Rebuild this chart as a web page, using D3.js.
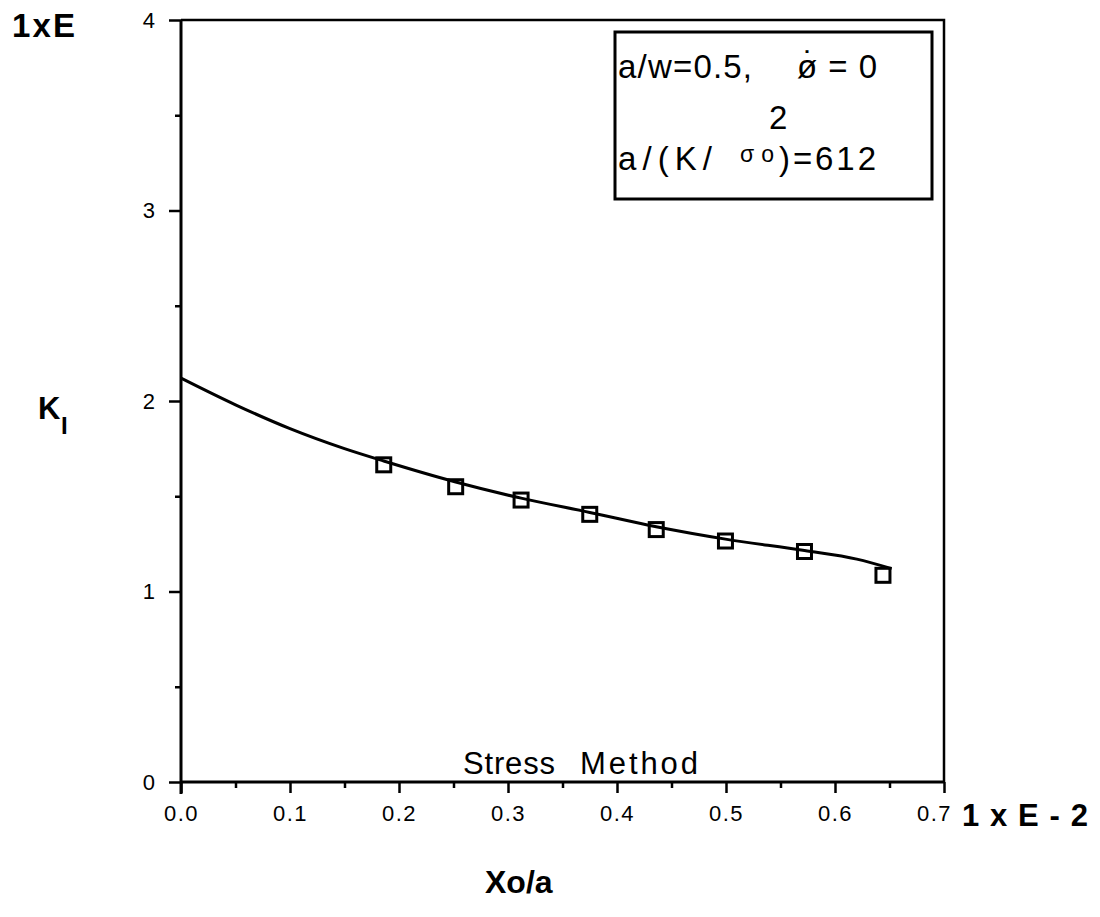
<!DOCTYPE html>
<html lang="en">
<head>
<meta charset="UTF-8">
<title>KI vs Xo/a</title>
<style>
    body { margin: 0; background: #fff; }
    text { font-family: "Liberation Sans", Arial, sans-serif; fill: #000; }
</style>
</head>
<body>
<svg id="chart"></svg>
<script src="https://d3js.org/d3.v7.min.js"></script>
<script>
    // data
    var xTicks = [0.0, 0.1, 0.2, 0.3, 0.4, 0.5, 0.6, 0.7];
    var yTicks = [0, 1, 2, 3, 4];
    var pointX = [0.186, 0.252, 0.312, 0.375, 0.436, 0.4995, 0.572, 0.644];
    var pointY = [1.665, 1.55, 1.48, 1.405, 1.325, 1.265, 1.21, 1.085];
    var curveX = [0.0, 0.05, 0.1, 0.15, 0.186, 0.252, 0.312, 0.375, 0.436, 0.4995, 0.572, 0.62, 0.652];
    var curveY = [2.12, 1.98, 1.855, 1.75, 1.685, 1.575, 1.49, 1.415, 1.34, 1.275, 1.215, 1.17, 1.12];

    var width = 1100, height = 917;
    var svg = d3.select("#chart").attr("width", width).attr("height", height);

    var x = d3.scaleLinear().domain([0, 0.7]).range([181, 944]);
    var y = d3.scaleLinear().domain([0, 4]).range([782, 20]);

    // frame (top and right)
    svg.append("path")
        .attr("d", "M" + x(0) + "," + y(4) + "H" + x(0.7) + "V" + y(0))
        .attr("fill", "none").attr("stroke", "#000").attr("stroke-width", 2.5);

    // x axis
    var xAxis = d3.axisBottom(x).tickValues(xTicks).tickSize(11).tickFormat(d3.format(".1f")).tickPadding(12);
    var gx = svg.append("g").attr("transform", "translate(0," + y(0) + ")").call(xAxis);
    gx.select(".domain").attr("stroke-width", 3).attr("d", "M" + x(0) + ",0H" + x(0.7));
    gx.selectAll(".tick line").attr("stroke-width", 2.5);
    gx.selectAll(".tick text").attr("font-size", 22).attr("letter-spacing", 1.5)
        .attr("font-family", "Liberation Sans, Arial, sans-serif")
        .attr("dx", d => d === 0.7 ? -10 : 0);
    svg.append("g").attr("transform", "translate(0," + y(0) + ")")
        .call(d3.axisBottom(x).tickValues(d3.range(0.05, 0.7, 0.1)).tickSize(6).tickFormat(""))
        .call(g => g.select(".domain").remove())
        .selectAll("line").attr("stroke-width", 2.5);

    // y axis
    var yAxis = d3.axisLeft(y).tickValues(yTicks).tickSize(12).tickFormat(d3.format("d")).tickPadding(14);
    var gy = svg.append("g").attr("transform", "translate(" + x(0) + ",0)").call(yAxis);
    gy.select(".domain").attr("stroke-width", 3).attr("d", "M0," + y(4) + "V" + (y(0) + 12));
    gy.selectAll(".tick line").attr("stroke-width", 2.5);
    gy.selectAll(".tick text").attr("font-size", 22)
        .attr("font-family", "Liberation Sans, Arial, sans-serif");
    svg.append("g").attr("transform", "translate(" + x(0) + ",0)")
        .call(d3.axisLeft(y).tickValues([0.5, 1.5, 2.5, 3.5]).tickSize(6).tickFormat(""))
        .call(g => g.select(".domain").remove())
        .selectAll("line").attr("stroke-width", 2.5);

    // fitted curve
    var line = d3.line().x(d => x(d[0])).y(d => y(d[1])).curve(d3.curveMonotoneX);
    svg.append("path")
        .datum(d3.zip(curveX, curveY))
        .attr("d", line)
        .attr("fill", "none").attr("stroke", "#000").attr("stroke-width", 3);

    // square markers
    svg.append("g").selectAll("rect")
        .data(d3.zip(pointX, pointY))
        .join("rect")
        .attr("x", d => x(d[0]) - 7)
        .attr("y", d => y(d[1]) - 7)
        .attr("width", 14).attr("height", 14)
        .attr("fill", "none").attr("stroke", "#000").attr("stroke-width", 3);

    // legend box
    svg.append("rect").attr("x", 615).attr("y", 32).attr("width", 317).attr("height", 167)
        .attr("fill", "#fff").attr("stroke", "#000").attr("stroke-width", 3);
    function label(tx, ty, size, str, len) {
        var t = svg.append("text").attr("x", tx).attr("y", ty).attr("font-size", size).text(str);
        if (len) t.attr("textLength", len).attr("lengthAdjust", "spacing");
        return t;
    }
    label(618, 78, 33, "a/w=0.5,", 134);
    label(797, 78, 33, "\u00f8\u0307=0", 80);
    label(769, 129, 33, "2");
    label(618, 170, 33, "a/(K/", 94);
    label(740, 162, 23, "\u03c3o", 34);
    label(779, 170, 33, ")=612", 97);

    // annotations / axis titles
    label(463, 774, 31, "Stress", 92);
    label(580, 774, 31, "Method", 118);
    label(12, 37, 33, "1xE", 63).attr("font-weight", "bold");
    label(962, 826, 31, "1xE-2", 126).attr("font-weight", "bold");
    label(485, 893, 32, "Xo/a").attr("font-weight", "bold");
    label(38, 419, 31, "K").attr("font-weight", "bold");
    label(61, 434, 24, "I").attr("font-weight", "bold");
</script>
</body>
</html>
